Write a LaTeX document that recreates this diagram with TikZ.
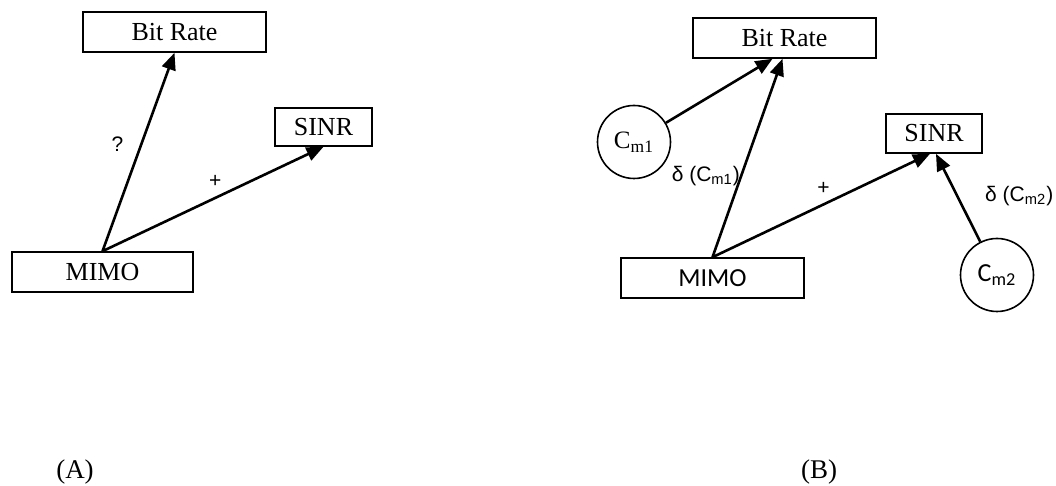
\documentclass[tikz,border=0pt]{standalone}
\usepackage{fontspec}
\setmainfont{Liberation Serif}
\setsansfont{Liberation Sans}
\newfontfamily\calibri{Carlito}
\usepackage{tikz}
\usetikzlibrary{arrows.meta}

\begin{document}
\begin{tikzpicture}[x=0.5pt,y=-0.5pt]
\tikzset{box/.style = {shape=rectangle,draw,line width=0.8pt,inner sep=0pt,minimum height=20pt,font=\fontsize{13}{15}\selectfont}}
\tikzset{factor/.style = {shape=circle,draw,line width=0.8pt,inner sep=0pt,minimum size=36.5pt}}
\tikzset{link/.style = {line width=1.3pt,-{Triangle[length=8.5pt,width=7pt]}}}
\tikzset{lbl/.style = {font=\sffamily\fontsize{10.5}{12}\selectfont}}
\useasboundingbox (0,0) rectangle (1056,486);
% (A) nodes
\node[box,minimum width=91.5pt] (rateA) at (174.5,32) {Bit Rate};
\node[box,minimum width=48.5pt,minimum height=19pt] (sinrA) at (323.5,127) {SINR};
\node[box,minimum width=90.5pt] (mimoA) at (102.5,272) {MIMO};
% (B) nodes
\node[box,minimum width=91.5pt] (rateB) at (784.5,38) {Bit Rate};
\node[box,minimum width=48pt,minimum height=19.5pt] (sinrB) at (934,133.5) {SINR};
\node[box,minimum width=91.5pt,font=\calibri\fontsize{13}{15}\selectfont] (mimoB) at (712.5,278) {MIMO};
\node[factor,font=\fontsize{12.5}{14}\selectfont] (cm1) at (634,142) {C\textsubscript{m1}};
\node[factor,font=\calibri\fontsize{13}{15}\selectfont] (cm2) at (997,275) {C\textsubscript{m2}};
% captions
\node[font=\fontsize{13.5}{15}\selectfont] (capA) at (75,472) {(A)};
\node[font=\fontsize{13.5}{15}\selectfont] (capB) at (819,472) {(B)};
% edges (A)
\draw[link] (mimoA.north) -- node[lbl,pos=0.54,left=5pt] {?} (rateA.south);
\draw[link] (mimoA.north) -- node[lbl,pos=0.51,above=1pt] {+} (sinrA.south);
% edges (B)
\draw[link] (cm1) -- ([xshift=-6pt]rateB.south);
\draw[link] (mimoB.north) -- node[lbl,pos=0.41,left,inner sep=0pt] {δ (C\textsubscript{m1})} ([xshift=-1pt]rateB.south);
\draw[link] (mimoB.north) -- node[lbl,pos=0.51,above=1pt] {+} ([xshift=-2pt]sinrB.south);
\draw[link] (cm2) -- node[lbl,pos=0.52,right=10pt] {δ (C\textsubscript{m2})} ([xshift=1pt]sinrB.south);
\end{tikzpicture}
\end{document}
